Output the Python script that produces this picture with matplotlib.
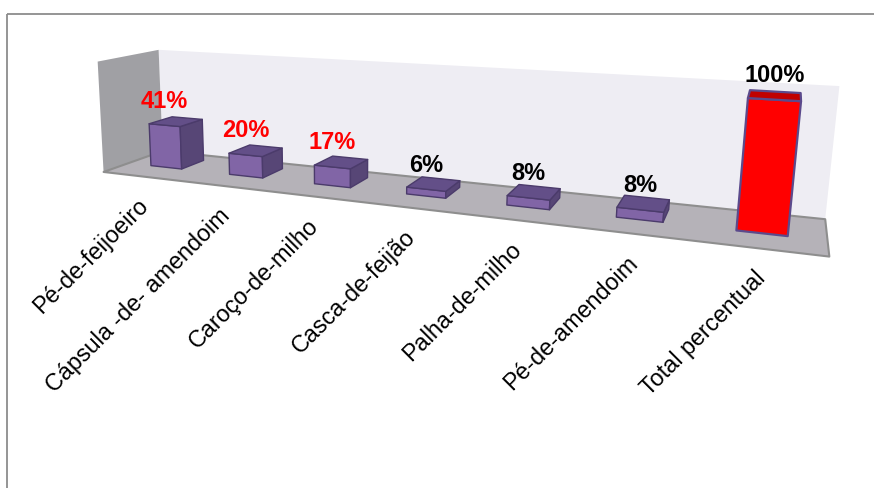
import numpy as np
import matplotlib
matplotlib.use("Agg")
import matplotlib.pyplot as plt
from matplotlib.patches import Polygon, Rectangle

# ---------------- data ----------------
categories = ["Pé-de-feijoeiro", "Cápsula -de- amendoim", "Caroço-de-milho",
              "Casca-de-feijão", "Palha-de-milho", "Pé-de-amendoim", "Total percentual"]
values = [41, 20, 17, 6, 8, 8, 100]
value_labels = ["41%", "20%", "17%", "6%", "8%", "8%", "100%"]
label_colors = ["#FF0000", "#FF0000", "#FF0000", "#000000", "#000000", "#000000", "#000000"]
is_total = [False, False, False, False, False, False, True]

# ---------------- figure ----------------
W, H = 874, 488
plt.rcParams['font.family'] = ['Liberation Sans', 'DejaVu Sans']
fig = plt.figure(figsize=(W / 100, H / 100), dpi=100)
ax = fig.add_axes([0, 0, 1, 1])
ax.set_xlim(0, W)
ax.set_ylim(H, 0)
ax.axis('off')

# ---------------- 3-D scene layout ----------------
n = len(categories)
ZTOP = 104.0            # height of the walls, in % units
BW = 0.40               # bar width (category units)
D0, D1 = 0.40, 0.80     # bar depth span (fraction of floor depth)

# perspective camera (3x4 projection matrix: world (cat, depth, %) -> pixels)
P = np.array([[71.820234, 74.396425, -0.079142112, 103.56789],
              [2.2323661, -6.7656306, -1.0755606, 171.96115],
              [-0.038418094, 0.093822419, -0.00022853873, 1.0]])
_, _, Vt = np.linalg.svd(P)
CAM = Vt[-1][:3] / Vt[-1][3]


def proj(pts):
    pts = np.atleast_2d(np.asarray(pts, float))
    h = np.c_[pts, np.ones(len(pts))] @ P.T
    return h[:, :2] / h[:, 2:3]


def face(pts, fc, ec, lw=1.0, z=1):
    ax.add_patch(Polygon(proj(pts), closed=True, facecolor=fc, edgecolor=ec, lw=lw,
                         zorder=z, joinstyle='round'))


# chart-area border
ax.add_patch(Rectangle((7, 14), 1000, 1000, fill=False, edgecolor='#8C8C8C', lw=1.3, zorder=0))

# walls and floor
face([[0, 1, 0], [n, 1, 0], [n, 1, ZTOP], [0, 1, ZTOP]], '#EEEDF3', 'none', z=1)
face([[0, 0, 0], [0, 1, 0], [0, 1, ZTOP], [0, 0, ZTOP]], '#A0A0A4', 'none', z=2)
face([[0, 0, 0], [n, 0, 0], [n, 1, 0], [0, 1, 0]], '#B5B2B8', '#8E8E8E', lw=1.5, z=3)

# bars (visible faces only, painter's order)
order = sorted(range(n), key=lambda i: -np.linalg.norm(np.array([i + 0.5, 0.5, values[i] / 2]) - CAM))
for rank, i in enumerate(order):
    x0, x1 = i + 0.5 - BW / 2, i + 0.5 + BW / 2
    z1 = values[i]
    if is_total[i]:
        cf, cs, ct, ce, lw = '#FF0000', '#D00000', '#C00000', '#5B4A8C', 1.6
    else:
        cf, cs, ct, ce, lw = '#8165A6', '#574676', '#634F88', '#4B3B6B', 1.0
    faces = [
        ([[x0, D0, 0], [x1, D0, 0], [x1, D0, z1], [x0, D0, z1]], (0, -1, 0), cf),
        ([[x1, D0, 0], [x1, D1, 0], [x1, D1, z1], [x1, D0, z1]], (1, 0, 0), cs),
        ([[x0, D0, 0], [x0, D1, 0], [x0, D1, z1], [x0, D0, z1]], (-1, 0, 0), cs),
        ([[x0, D0, z1], [x1, D0, z1], [x1, D1, z1], [x0, D1, z1]], (0, 0, 1), ct),
    ]
    for pts, nrm, col in faces:
        ctr = np.mean(np.array(pts, float), axis=0)
        if np.dot(CAM - ctr, nrm) > 0:
            face(pts, col, ce, lw=lw, z=10 + rank)
    lx, ly = proj([[i + 0.5, D0, z1]])[0]
    ax.text(lx, ly - 24, value_labels[i], color=label_colors[i], fontsize=17,
            fontweight='bold', ha='center', va='center', zorder=50)

# category labels
for i, lab in enumerate(categories):
    fx, fy = proj([[i + 0.5, 0, 0]])[0]
    ax.text(fx + 2, fy + 26, lab, rotation=45, rotation_mode='anchor', ha='right',
            va='center', fontsize=16.8, color='black', zorder=50)

fig.savefig("out.png", dpi=100)
